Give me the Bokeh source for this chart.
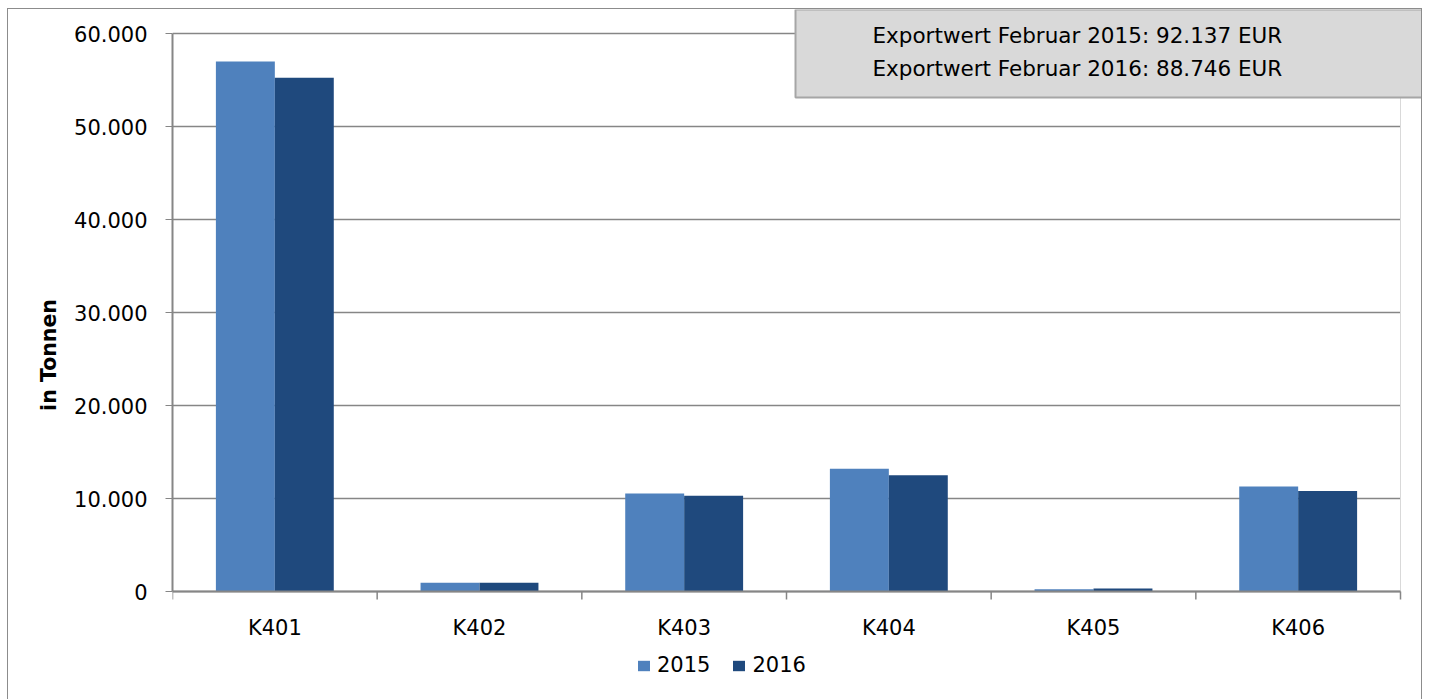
from bokeh.plotting import figure
from bokeh.models import (ColumnDataSource, FixedTicker, Legend, LegendItem, Label, Range1d)
from bokeh.core.properties import value
from bokeh.embed import file_html
from bokeh.resources import INLINE

categories = ["K401", "K402", "K403", "K404", "K405", "K406"]
values_2015 = [57000, 930, 10550, 13200, 250, 11300]
values_2016 = [55250, 950, 10300, 12500, 320, 10800]
y_ticks = [0, 10000, 20000, 30000, 40000, 50000, 60000]
y_tick_labels = ["0", "10.000", "20.000", "30.000", "40.000", "50.000", "60.000"]
info_text = "Exportwert Februar 2015: 92.137 EUR\nExportwert Februar 2016: 88.746 EUR"

FONT = "DejaVu Sans"
C2015 = "#4F81BD"
C2016 = "#1F497D"
GRID = "#868686"

# layout constants (pixels)
W, H = 1415, 691
LEFT = 164              # space for the y axis
PLOT_W = 1228           # width of the category area
PLOT_TOP = 24           # space above the 60.000 line
PLOT_H = 558            # height of the value area
n = len(categories)
ymax = y_ticks[-1]
kx = PLOT_W / n                      # px per category
ky = PLOT_H / ymax                   # px per tonne
x_end = n + (W - LEFT - PLOT_W) / kx
y_start = -(H - PLOT_TOP - PLOT_H) / ky
y_end = ymax + PLOT_TOP / ky

centers = [i + 0.5 for i in range(n)]
bounds = list(range(n + 1))
bw = 0.288
src = ColumnDataSource(dict(
    x15=[c - bw / 2 for c in centers],
    x16=[c + bw / 2 for c in centers],
    v15=values_2015,
    v16=values_2016,
))

p = figure(width=W, height=H, output_backend="svg", toolbar_location=None,
           x_range=Range1d(0, x_end), y_range=Range1d(y_start, y_end),
           x_axis_location=None,
           min_border_left=LEFT, min_border_right=0, min_border_top=0,
           min_border_bottom=0)
p.styles = {"margin-left": "7px", "margin-top": "8px",
            "border-left": "1px solid #8c8c8c", "border-top": "1px solid #8c8c8c",
            "border-right": "1px solid #8c8c8c"}
p.outline_line_color = None
p.xgrid.grid_line_color = None
p.ygrid.grid_line_color = None

# grid lines and right plot-area edge
p.segment(x0=[0] * len(y_ticks), x1=[n] * len(y_ticks), y0=y_ticks, y1=y_ticks,
          line_color=GRID, line_width=1.5)
p.segment(x0=[n], x1=[n], y0=[0], y1=[ymax], line_color="#d9d9d9", line_width=1)

r15 = p.vbar(x="x15", top="v15", width=bw, source=src, fill_color=C2015, line_color=None)
r16 = p.vbar(x="x16", top="v16", width=bw, source=src, fill_color=C2016, line_color=None)

# category axis (drawn below the zero line)
p.segment(x0=[0], x1=[n], y0=[0], y1=[0], line_color=GRID, line_width=2)
tick_len = 8 / ky
p.segment(x0=bounds, x1=bounds, y0=[0] * len(bounds), y1=[-tick_len] * len(bounds),
          line_color=GRID, line_width=1.5)
p.text(x=centers, y=[-36 / ky] * n, text=categories, text_align="center",
       text_baseline="middle", text_font=value(FONT), text_font_size="21px",
       text_color="black")

# y axis
p.yaxis.bounds = (0, ymax)
p.yaxis.ticker = FixedTicker(ticks=y_ticks, minor_ticks=[])
p.yaxis.major_label_overrides = {t: l for t, l in zip(y_ticks, y_tick_labels)}
p.yaxis.major_tick_out = 7
p.yaxis.major_tick_in = 0
p.yaxis.major_tick_line_color = GRID
p.yaxis.axis_line_color = GRID
p.yaxis.axis_line_width = 2
p.yaxis.major_label_text_font = FONT
p.yaxis.major_label_text_font_size = "21px"
p.yaxis.major_label_text_color = "black"
p.yaxis.major_label_standoff = 18
p.yaxis.axis_label = "in Tonnen"
p.yaxis.axis_label_text_font = FONT
p.yaxis.axis_label_text_font_size = "20.5px"
p.yaxis.axis_label_text_font_style = "bold"
p.yaxis.axis_label_text_color = "black"
p.yaxis.axis_label_standoff = 10

legend = Legend(items=[LegendItem(label="2015", renderers=[r15]),
                       LegendItem(label="2016", renderers=[r16])],
                orientation="horizontal", location=(464, 23),
                label_text_font=FONT, label_text_font_size="21px",
                label_text_color="black",
                glyph_width=15, glyph_height=13, spacing=21, label_standoff=6,
                padding=0, margin=0, border_line_color=None, background_fill_alpha=0)
p.add_layout(legend, "center")

info = Label(x=3.044, y=y_end, x_units="data", y_units="data", anchor="top_left",
             text=info_text, text_font=FONT, text_font_size="21.5px",
             text_line_height=1.32, text_color="black",
             background_fill_color="#d9d9d9", border_line_color="#a6a6a6", border_line_width=2,
             padding=dict(left=77, right=142, top=13, bottom=17))
p.add_layout(info)

open("out.html", "w").write(file_html(p, INLINE))
